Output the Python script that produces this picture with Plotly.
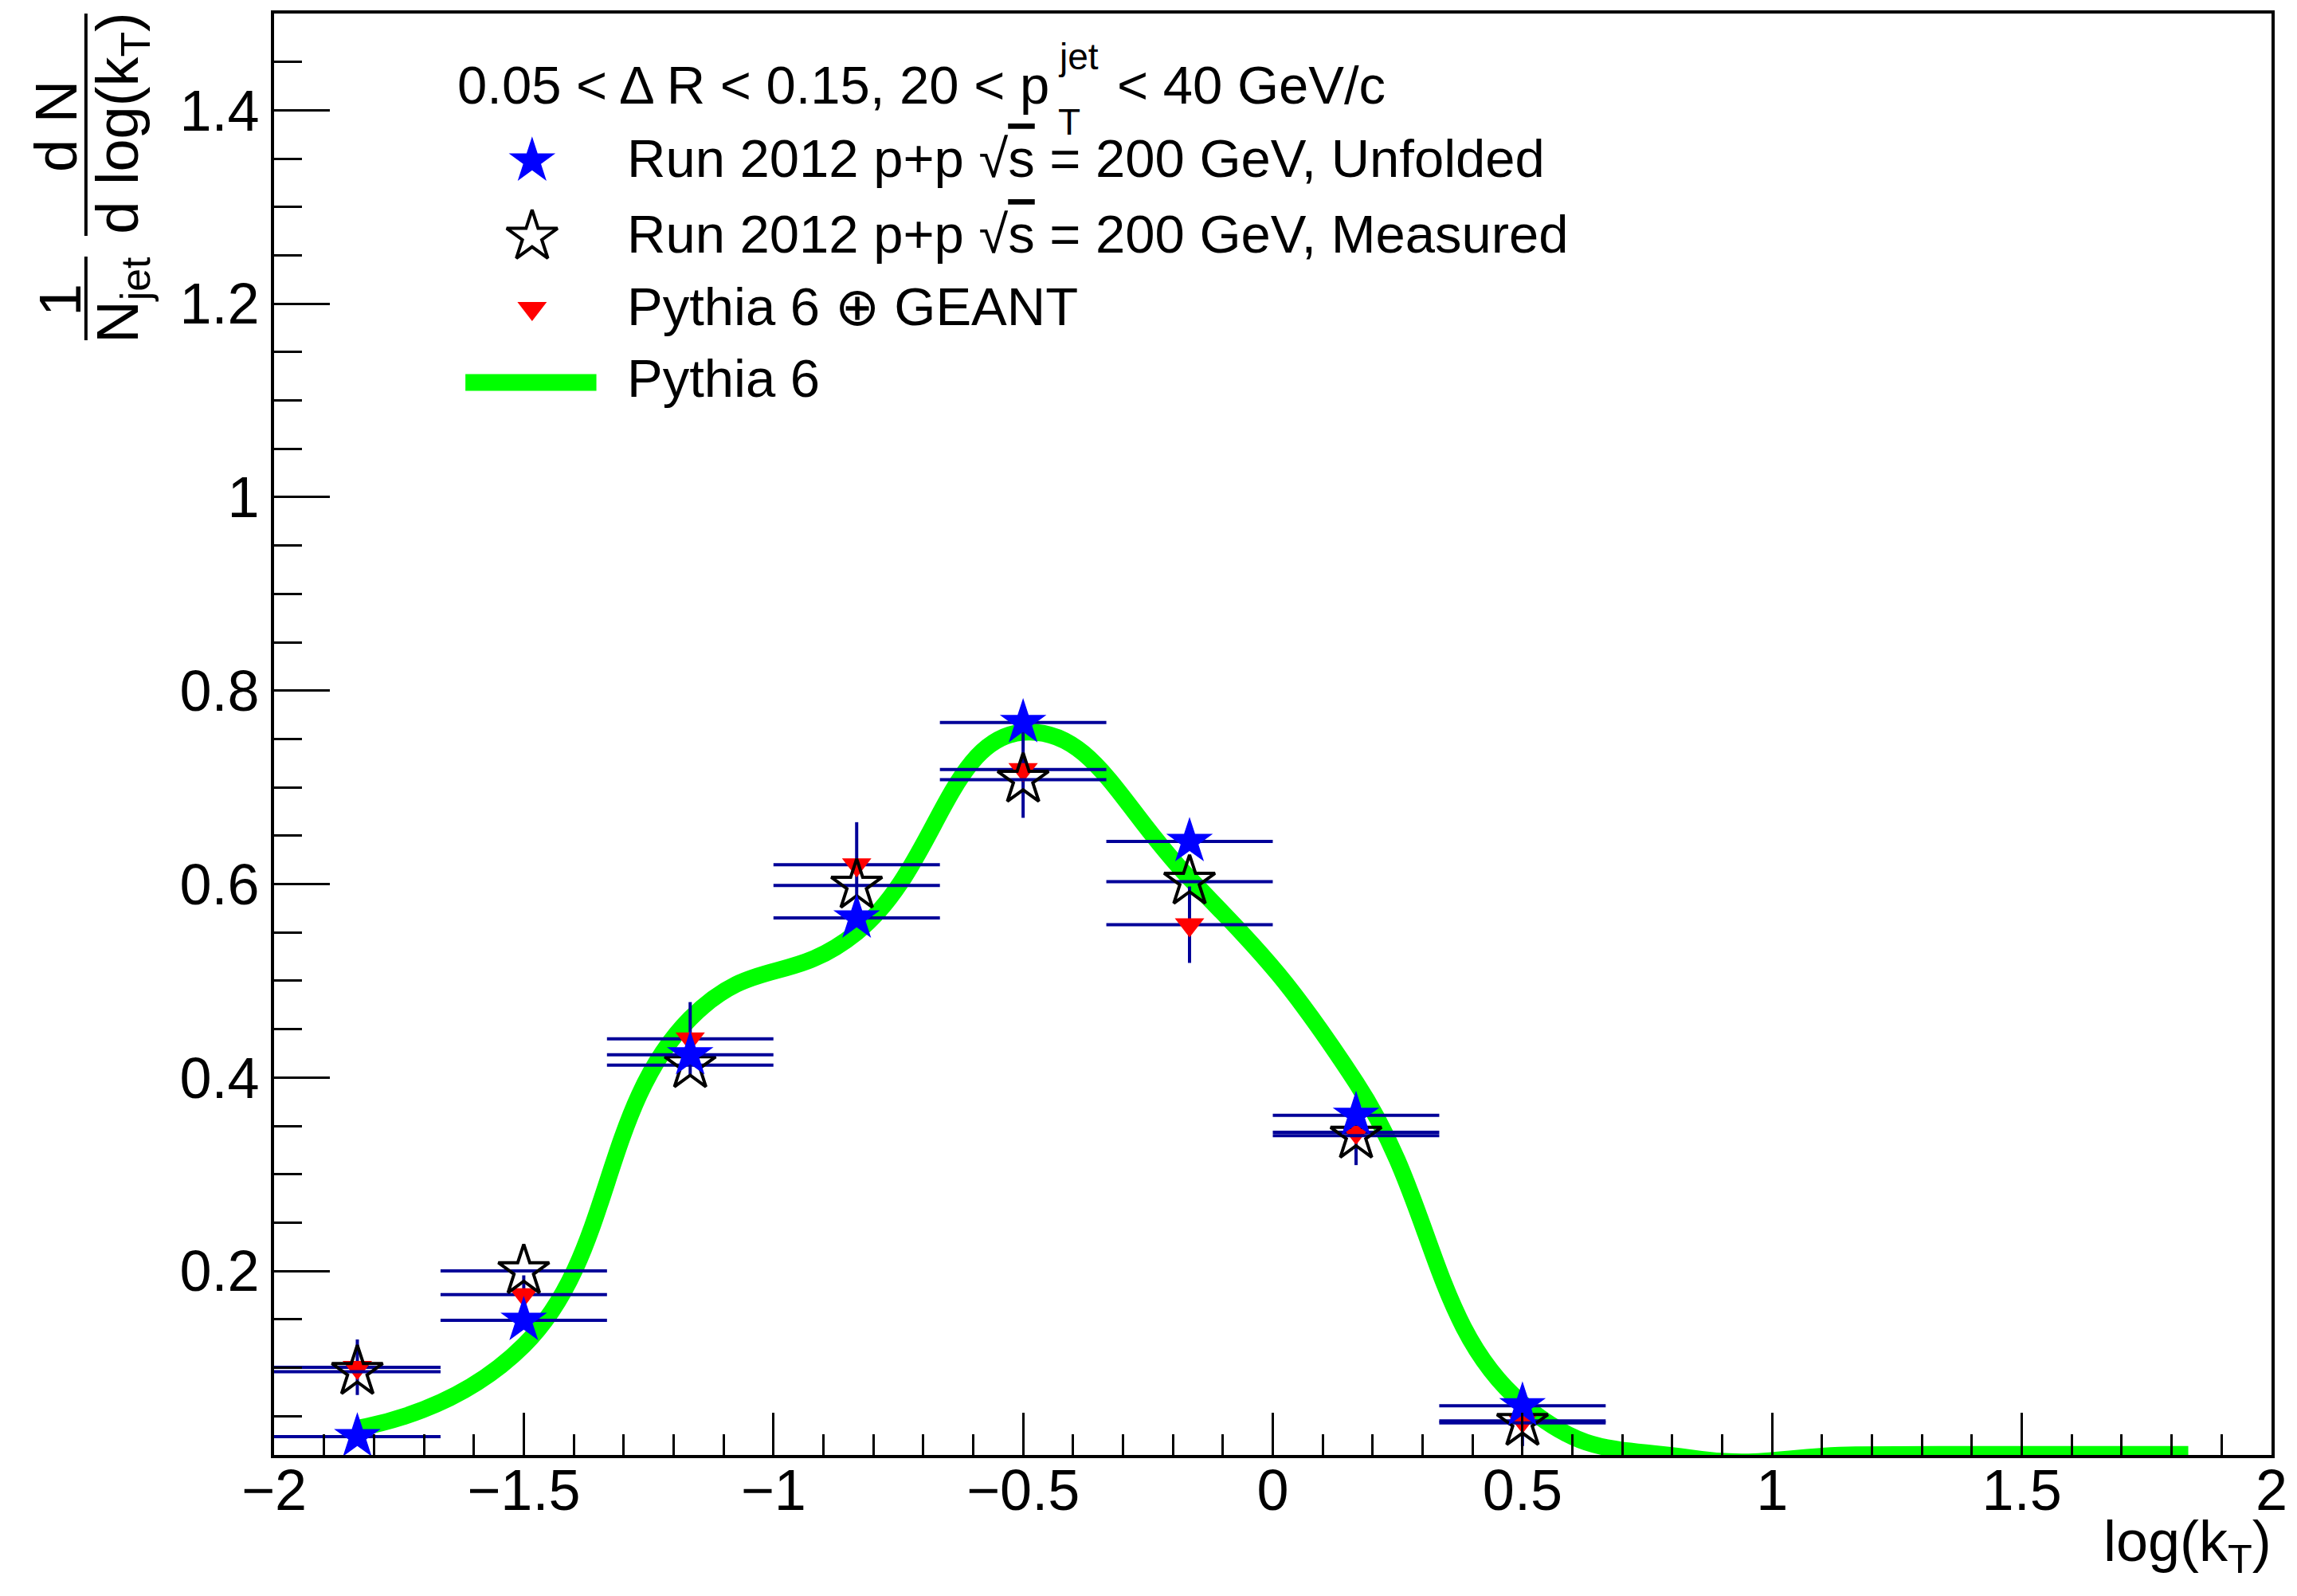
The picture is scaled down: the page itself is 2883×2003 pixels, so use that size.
import plotly.graph_objects as go

# ---------------- data ----------------
bin_centers = [-1.8333, -1.5, -1.1667, -0.8333, -0.5, -0.1667, 0.1667, 0.5]
bin_half_width = [0.16667, 0.16667, 0.16667, 0.16667, 0.16667, 0.16667, 0.16667, 0.16667]
unfolded = [0.0288, 0.149, 0.4236, 0.565, 0.767, 0.644, 0.361, 0.0606]
measured = [0.0958, 0.200, 0.4129, 0.5985, 0.708, 0.6026, 0.340, 0.043]
geant = [0.1005, 0.1755, 0.440, 0.620, 0.7185, 0.558, 0.3435, 0.045]
geant_err = [0.0287, 0.020, 0.038, 0.044, 0.050, 0.0395, 0.034, 0.026]
pythia_x = [-1.8333, -1.5, -1.1667, -0.8333, -0.5, -0.1667, 0.1667, 0.5,
            0.8333, 1.1667, 1.5, 1.8333]
pythia = [0.0373, 0.123, 0.461, 0.55, 0.757, 0.606, 0.395, 0.063,
          0.007, 0.010, 0.0105, 0.0105]

x_tickvals = [-2, -1.5, -1, -0.5, 0, 0.5, 1, 1.5, 2]
x_ticktext = ["\u22122", "\u22121.5", "\u22121", "\u22120.5", "0", "0.5", "1", "1.5", "2"]
y_tickvals = [0.2, 0.4, 0.6, 0.8, 1.0, 1.2, 1.4]
y_ticktext = ["0.2", "0.4", "0.6", "0.8", "1", "1.2", "1.4"]

header_parts = ["0.05 < \u0394 R < 0.15, 20 < p", "jet", "T", "< 40 GeV/c"]
names = {
    "unf": "Run 2012 p+p \u221a<span style=\"text-decoration:overline\">s</span> = 200 GeV, Unfolded",
    "meas": "Run 2012 p+p \u221a<span style=\"text-decoration:overline\">s</span> = 200 GeV, Measured",
    "geant": "Pythia 6 \u2295 GEANT",
    "pyth": "Pythia 6",
}

# ---------------- layout constants (pixels) ----------------
W, H = 2883, 2003
ML, MR, MT, MB = 344, 23, 17, 177
PW, PH = W - ML - MR, H - MT - MB
FONT = "Liberation Sans, Arial, Helvetica, sans-serif"
ERRC = "#000099"
GREEN = "#00ff00"


def pxx(x):
    return (x - ML) / PW


def pxy(y):
    return (H - MB - y) / PH


fig = go.Figure()

fig.add_trace(go.Scatter(
    x=pythia_x, y=pythia, mode="lines", name=names["pyth"],
    line=dict(color=GREEN, width=21, shape="spline", smoothing=1.3),
    showlegend=False, hoverinfo="skip"))

fig.add_trace(go.Scatter(
    x=bin_centers, y=geant, mode="markers", name=names["geant"],
    marker=dict(symbol="triangle-down", size=32, color="#ff0000", line=dict(width=0)),
    error_x=dict(type="data", array=bin_half_width, color=ERRC, thickness=4, width=0),
    error_y=dict(type="data", array=geant_err, color=ERRC, thickness=4, width=0),
    showlegend=False))

fig.add_trace(go.Scatter(
    x=bin_centers, y=measured, mode="markers", name=names["meas"],
    marker=dict(symbol="star-open", size=48, color="black", line=dict(width=4, color="black")),
    error_x=dict(type="data", array=bin_half_width, color=ERRC, thickness=4, width=0),
    showlegend=False))

fig.add_trace(go.Scatter(
    x=bin_centers, y=unfolded, mode="markers", name=names["unf"],
    marker=dict(symbol="star", size=44, color="#0000ff", line=dict(width=0)),
    error_x=dict(type="data", array=bin_half_width, color=ERRC, thickness=4, width=0),
    showlegend=False))

# ---------------- hand-made legend (pixel frame on auxiliary axes) ----------------
leg_sym_x = 669
leg_rows = [202, 297, 387, 480]
fig.add_trace(go.Scatter(x=[leg_sym_x], y=[leg_rows[0]], xaxis="x2", yaxis="y2", mode="markers",
                         marker=dict(symbol="star", size=44, color="#0000ff"),
                         showlegend=False, hoverinfo="skip"))
fig.add_trace(go.Scatter(x=[leg_sym_x], y=[leg_rows[1]], xaxis="x2", yaxis="y2", mode="markers",
                         marker=dict(symbol="star-open", size=48, color="black",
                                     line=dict(width=4, color="black")),
                         showlegend=False, hoverinfo="skip"))
fig.add_trace(go.Scatter(x=[leg_sym_x], y=[leg_rows[2]], xaxis="x2", yaxis="y2", mode="markers",
                         marker=dict(symbol="triangle-down", size=32, color="#ff0000"),
                         showlegend=False, hoverinfo="skip"))
fig.add_trace(go.Scatter(x=[585, 750], y=[leg_rows[3], leg_rows[3]], xaxis="x2", yaxis="y2",
                         mode="lines", line=dict(color=GREEN, width=21),
                         showlegend=False, hoverinfo="skip"))

LEGF = 67
SUBF = 46
anns = []


def text_at(txt, x_left, baseline, size):
    # annotation whose text baseline sits at the given pixel row
    return dict(text=txt, x=pxx(x_left), y=pxy(baseline + 0.212 * size + 1),
                xanchor="left", yanchor="bottom",
                font=dict(size=size, family=FONT, color="black"))


anns.append(text_at(header_parts[0], 573, 131, LEGF))
anns.append(text_at(header_parts[1], 1330, 88, SUBF))
anns.append(text_at(header_parts[2], 1330, 170, SUBF))
anns.append(text_at(header_parts[3], 1404, 131, LEGF))
leg_text_x = 787
for key, base in zip(["unf", "meas", "geant", "pyth"], [222, 317, 408, 498]):
    anns.append(dict(text=names[key], x=pxx(leg_text_x), y=pxy(base - 0.3465 * LEGF),
                     xanchor="left", yanchor="middle",
                     font=dict(size=LEGF, family=FONT, color="black")))
for a in anns:
    a.update(xref="paper", yref="paper", showarrow=False)

# y-axis title built from rotated pieces
YF = 74
ytitle = [
    ("d N", 70, 158),
    ("d log(k<sub>T</sub>)", 152, 155),
    ("1", 74, 376),
    ("N<sub>jet</sub>", 152, 376),
]
for txt, cx, cy in ytitle:
    anns.append(dict(text=txt, x=pxx(cx), y=pxy(cy), xref="paper", yref="paper",
                     xanchor="center", yanchor="middle", textangle=-90, showarrow=False,
                     font=dict(size=YF, family=FONT, color="black")))

# x-axis title
XF = 72
anns.append(dict(text="log(k<sub>T</sub>)", x=pxx(2862), y=pxy(1958 - 0.905 * XF - 1),
                 xref="paper", yref="paper", xanchor="right", yanchor="top",
                 showarrow=False, font=dict(size=XF, family=FONT, color="black")))

shapes = [
    dict(type="line", xref="paper", yref="paper", x0=pxx(107), x1=pxx(107),
         y0=pxy(17), y1=pxy(296), line=dict(color="black", width=4)),
    dict(type="line", xref="paper", yref="paper", x0=pxx(107), x1=pxx(107),
         y0=pxy(322), y1=pxy(427), line=dict(color="black", width=4)),
]

fig.update_layout(
    width=W, height=H,
    margin=dict(l=ML, r=MR, t=MT, b=MB, pad=0),
    paper_bgcolor="white", plot_bgcolor="white",
    font=dict(family=FONT, color="black", size=72),
    showlegend=False,
    annotations=anns, shapes=shapes,
    xaxis=dict(range=[-2, 2], tickvals=x_tickvals, ticktext=x_ticktext,
               ticks="inside", ticklen=53, tickwidth=3, tickcolor="black",
               minor=dict(dtick=0.1, tick0=0, ticks="inside", ticklen=26, tickwidth=3, tickcolor="black"),
               showline=True, linewidth=4, linecolor="black", mirror=True,
               showgrid=False, zeroline=False, ticklabeloverflow="allow",
               ticklabelstandoff=-21,
               tickfont=dict(size=72, family=FONT, color="black")),
    yaxis=dict(range=[0.0098, 1.5], tickvals=y_tickvals, ticktext=y_ticktext,
               ticks="inside", ticklen=70, tickwidth=3, tickcolor="black",
               minor=dict(dtick=0.05, tick0=0, ticks="inside", ticklen=35, tickwidth=3, tickcolor="black"),
               showline=True, linewidth=4, linecolor="black", mirror=True,
               showgrid=False, zeroline=False, ticklabeloverflow="allow",
               tickfont=dict(size=72, family=FONT, color="black")),
    xaxis2=dict(range=[ML, W - MR], overlaying="x", visible=False, fixedrange=True),
    yaxis2=dict(range=[H - MB, MT], overlaying="y", visible=False, fixedrange=True),
)

fig.write_html("out.html")
